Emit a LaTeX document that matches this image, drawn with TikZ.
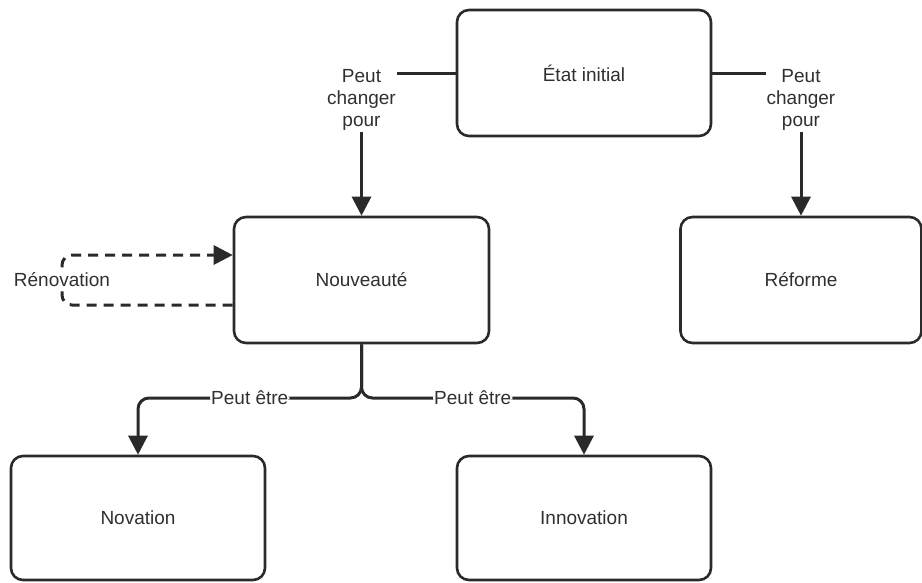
\documentclass[tikz,border=0pt]{standalone}
\usepackage{fontspec}
\setmainfont{Liberation Sans}
\usetikzlibrary{arrows.meta}
\definecolor{ink}{HTML}{2A2A2A}
\definecolor{txt}{HTML}{303030}
\tikzset{
  box/.style={draw=ink, line width=2.6pt, rounded corners=12pt, fill=white,
    font=\fontsize{19}{22}\selectfont, text=txt, align=center},
  conn/.style={draw=ink, line width=3pt, -{Triangle[width=19pt,length=19pt]}},
  dconn/.style={conn, dash pattern=on 10pt off 7pt},
  lbl/.style={fill=white, inner sep=1pt, font=\fontsize{19}{22}\selectfont,
    text=txt, align=center},
}
\begin{document}
\begin{tikzpicture}[x=1pt,y=-1pt]
\useasboundingbox (0,0) rectangle (922,582);
\node[box, minimum width=254pt, minimum height=126pt] (etat) at (584,73) {État initial};
\node[box, minimum width=255pt, minimum height=126pt] (nouv) at (361.5,280) {Nouveauté};
\node[box, minimum width=241pt, minimum height=126pt] (reforme) at (801,280) {Réforme};
\node[box, minimum width=254pt, minimum height=124pt] (novation) at (138,518) {Novation};
\node[box, minimum width=254pt, minimum height=124pt] (innovation) at (584,518) {Innovation};

\draw[conn] (etat.west) -| node[lbl, pos=0.5, yshift=-27pt] (l1) {Peut\\changer\\pour} (nouv.north);
\draw[conn] (etat.east) -| node[lbl, pos=0.5, yshift=-27pt] (l2) {Peut\\changer\\pour} (reforme.north);

\node[lbl, draw=none, fill=none] (ren) at (62,280) {\phantom{Rénovation}};
\draw[dconn, rounded corners=10pt] ([yshift=-25pt]nouv.west) -| (ren.center) |- ([yshift=25pt]nouv.west);
\node[lbl] (renlbl) at (62,280) {Rénovation};

\coordinate (br) at (361.5,398);
\draw[conn, rounded corners=11pt] (nouv.south) -- (br) -| node[lbl, pos=0.25] (p1) {Peut être} (novation.north);
\draw[conn, rounded corners=11pt] (nouv.south) -- (br) -| node[lbl, pos=0.25] (p2) {Peut être} (innovation.north);
\end{tikzpicture}
\end{document}
